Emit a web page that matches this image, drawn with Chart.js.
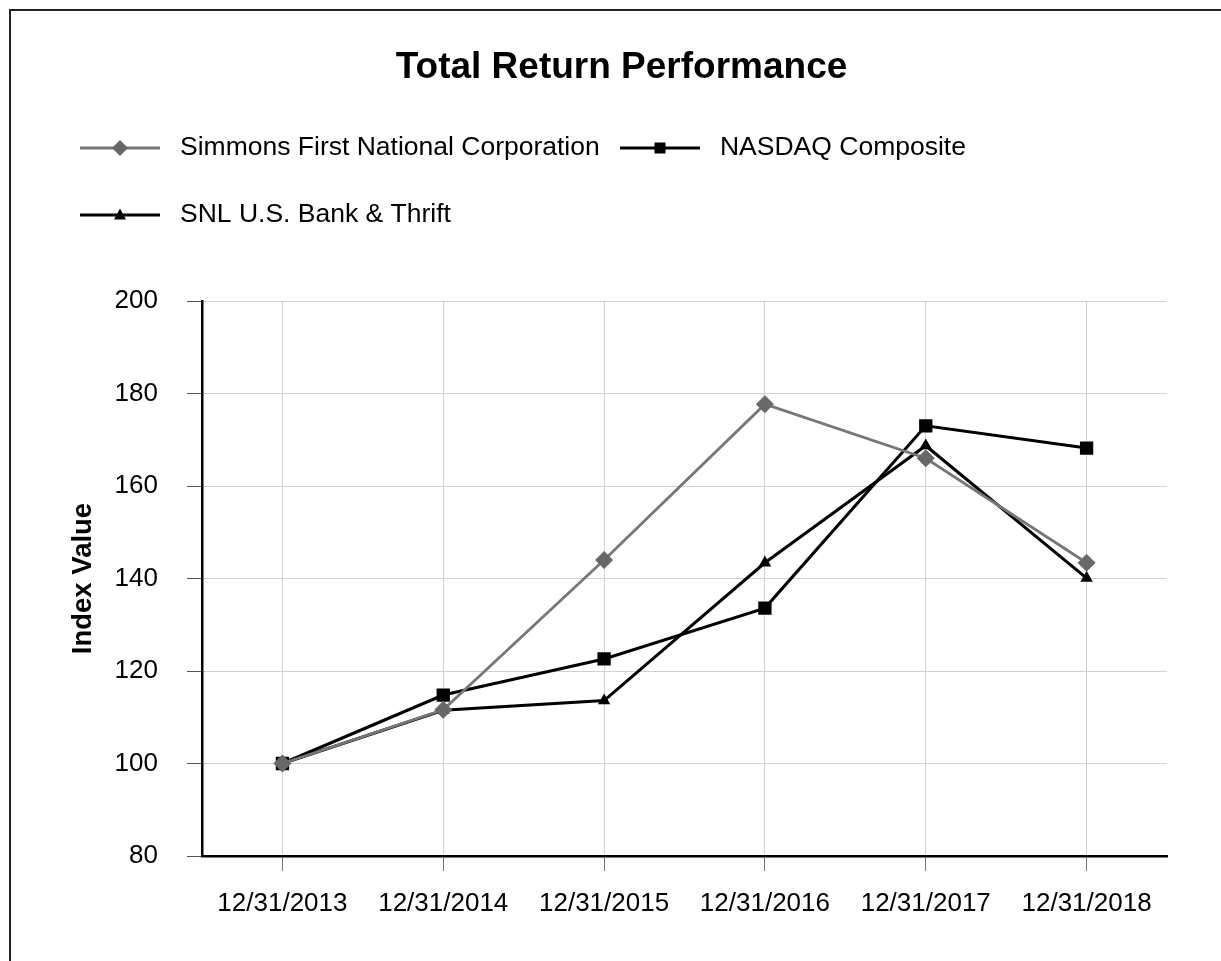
<!DOCTYPE html>
<html><head><meta charset="utf-8">
<script src="https://cdn.jsdelivr.net/npm/chart.js@4"></script>
<style>
html,body{margin:0;padding:0;background:#fff;overflow:hidden;}
#wrap{position:relative;width:1221px;height:961px;}
#frame{position:absolute;left:9px;top:9px;width:1400px;height:1100px;border-left:2px solid #222;border-top:2px solid #222;pointer-events:none;}
canvas{position:absolute;left:0;top:0;}
</style></head><body>
<div id="wrap"><canvas id="c" width="1221" height="961"></canvas><div id="frame"></div></div>
<script>
const categories = ['12/31/2013', '12/31/2014', '12/31/2015', '12/31/2016', '12/31/2017', '12/31/2018'];
const seriesNames = ['Simmons First National Corporation', 'NASDAQ Composite', 'SNL U.S. Bank & Thrift'];
const simmonsValues = [100, 111.6, 144.0, 177.7, 166.0, 143.4];
const nasdaqValues = [100, 114.8, 122.6, 133.6, 173.0, 168.2];
const snlValues = [100, 111.5, 113.6, 143.4, 168.7, 140.1];
const yMin = 80, yMax = 200, yStep = 20;

const FONT = "'Liberation Sans', Arial, Helvetica, sans-serif";
Chart.defaults.font.family = FONT;
Chart.defaults.color = '#000';

function makeIcon(lineColor, markerColor, style) {
  const c = document.createElement('canvas');
  c.width = 107; c.height = 26;
  const g = c.getContext('2d');
  g.strokeStyle = lineColor; g.lineWidth = 3;
  g.beginPath(); g.moveTo(0, 13); g.lineTo(80, 13); g.stroke();
  g.fillStyle = markerColor;
  g.beginPath();
  if (style === 'diamond') {
    g.moveTo(40, 5); g.lineTo(48, 13); g.lineTo(40, 21); g.lineTo(32, 13); g.closePath();
  } else if (style === 'square') {
    g.rect(34.5, 7.5, 11, 11);
  } else {
    g.moveTo(40, 6.5); g.lineTo(46, 17.5); g.lineTo(34, 17.5); g.closePath();
  }
  g.fill();
  return c;
}
const legendIcons = [
  makeIcon('#787878', '#686868', 'diamond'),
  makeIcon('#000', '#000', 'square'),
  makeIcon('#000', '#000', 'triangle')
];

new Chart(document.getElementById('c'), {
  type: 'line',
  data: {
    labels: categories,
    datasets: [
      { label: seriesNames[0], data: simmonsValues, borderColor: '#777777', backgroundColor: '#686868',
        pointBackgroundColor: '#686868', pointBorderColor: '#686868', borderWidth: 2.8,
        pointStyle: 'rectRot', pointRadius: 8.5, pointBorderWidth: 1, tension: 0 },
      { label: seriesNames[1], data: nasdaqValues, borderColor: '#000', backgroundColor: '#000',
        pointBackgroundColor: '#000', pointBorderColor: '#000', borderWidth: 3,
        pointStyle: 'rect', pointRadius: 9.4, pointBorderWidth: 0, tension: 0 },
      { label: seriesNames[2], data: snlValues, borderColor: '#000', backgroundColor: '#000',
        pointBackgroundColor: '#000', pointBorderColor: '#000', borderWidth: 3,
        pointStyle: 'triangle', pointRadius: 7.2, pointBorderWidth: 0, tension: 0 }
    ]
  },
  options: {
    responsive: false,
    devicePixelRatio: 1,
    animation: false,
    layout: { padding: { left: 59.75, right: 37.75, top: 0, bottom: 0 } },
    plugins: {
      title: {
        display: true, text: 'Total Return Performance', color: '#000',
        font: { size: 37, weight: 'bold' }, padding: { top: 45.4, bottom: 4.45 }
      },
      legend: {
        display: true, position: 'top', align: 'start',
        labels: {
          usePointStyle: true, pointStyleWidth: 66.5, padding: 40.5, color: '#000',
          font: { size: 26.5 },
          generateLabels: (chart) => Chart.defaults.plugins.legend.labels.generateLabels(chart)
            .map((l, i) => Object.assign(l, { pointStyle: legendIcons[i] }))
        }
      },
      subtitle: {
        display: true, text: '', position: 'top', weight: 500,
        font: { size: 10 }, padding: { top: 50.75, bottom: 0 }
      },
      tooltip: { enabled: false }
    },
    scales: {
      x: {
        type: 'category', offset: true,
        grid: { offset: false, color: '#d0d0d0', lineWidth: 1, tickLength: 15, tickColor: '#777', drawTicks: true },
        border: { display: true, color: '#000', width: 2.5 },
        ticks: { font: { size: 26 }, color: '#000', padding: 17, maxRotation: 0, autoSkip: false },
        afterFit: (s) => { s.height = 105; s.paddingRight = 54; }
      },
      y: {
        min: yMin, max: yMax,
        grid: { color: '#d0d0d0', lineWidth: 1, tickLength: 15, tickColor: '#555' },
        border: { display: true, color: '#000', width: 2.5 },
        ticks: { stepSize: yStep, font: { size: 26 }, color: '#000', padding: 29 },
        title: { display: true, text: 'Index Value', color: '#000', font: { size: 27.5, weight: 'bold' }, padding: { top: 6.75, bottom: 0 } },
        afterFit: (s) => { s.width = 202 - 59.75; }
      }
    }
  }
});
</script>
</body></html>
